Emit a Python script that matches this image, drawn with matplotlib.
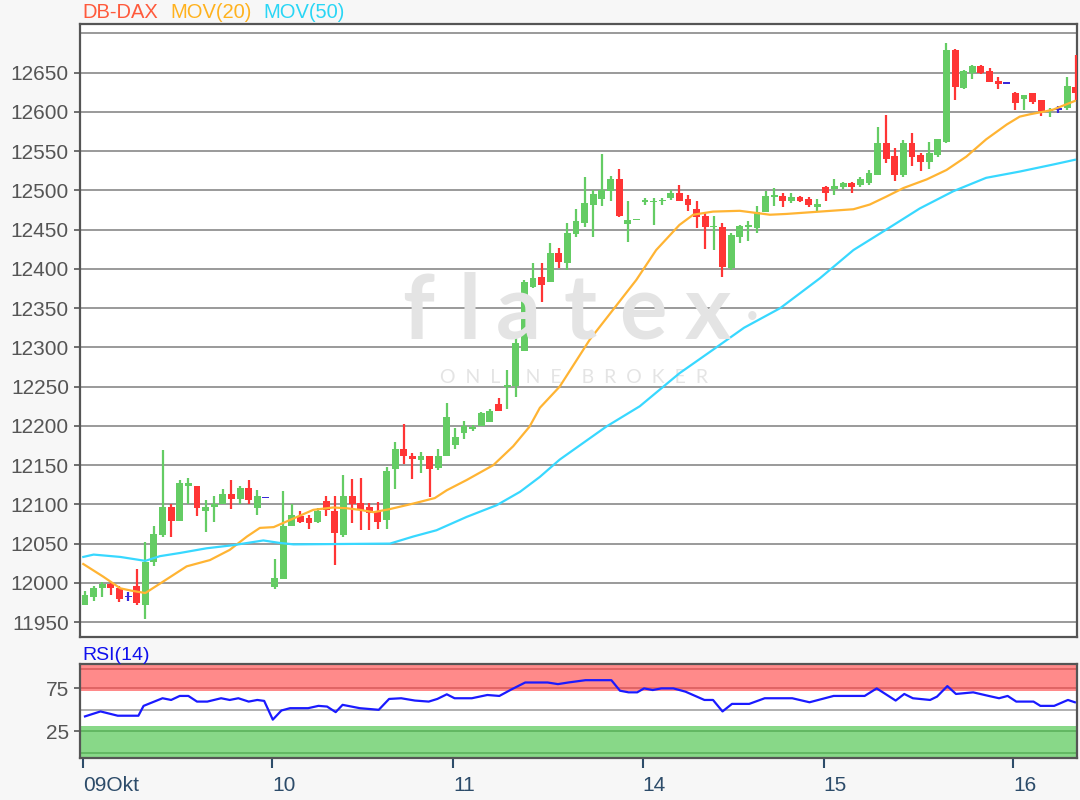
import matplotlib
matplotlib.use('Agg')
import matplotlib.pyplot as plt
import numpy as np

plt.rcParams['font.family'] = ['Liberation Sans', 'DejaVu Sans']

# Candles (one per bar, left to right): open, high, low, close
opens = [11972, 11982, 11994, 11999, 11994, 11982, 11996, 11972, 12026, 12061,
         12096, 12079, 12123, 12124, 12092, 12097, 12100, 12113, 12107, 12121,
         12095, 12108, 11995, 12005, 12073, 12085, 12082, 12078, 12104, 12091,
         12061, 12111, 12102, 12096, 12091, 12080, 12145, 12170, 12162, 12157,
         12162, 12146, 12161, 12176, 12191, 12196, 12200, 12205, 12228, 12249,
         12251, 12295, 12377, 12390, 12383, 12420, 12408, 12444, 12458, 12482,
         12489, 12499, 12515, 12457, 12462, 12485, 12485, 12486, 12490, 12497,
         12489, 12476, 12467, 12453, 12453, 12401, 12441, 12454, 12452, 12473,
         12492, 12493, 12486, 12492, 12489, 12479, 12504, 12502, 12504, 12510,
         12507, 12509, 12520, 12560, 12544, 12519, 12560, 12545, 12536, 12545,
         12562, 12679, 12631, 12650, 12659, 12652, 12639, 12636, 12624, 12616,
         12624, 12615, 12601, 12603, 12605, 12632]
highs = [11989, 11996, 12001, 12001, 11996, 11988, 12017, 12052, 12072, 12169,
         12100, 12131, 12134, 12124, 12105, 12111, 12120, 12131, 12124, 12131,
         12118, 12108, 12030, 12117, 12100, 12091, 12086, 12095, 12111, 12111,
         12137, 12132, 12134, 12102, 12103, 12147, 12180, 12203, 12166, 12167,
         12162, 12170, 12229, 12197, 12206, 12201, 12218, 12221, 12235, 12271,
         12316, 12386, 12407, 12407, 12433, 12426, 12458, 12476, 12517, 12501,
         12546, 12518, 12527, 12486, 12464, 12490, 12490, 12490, 12500, 12507,
         12494, 12486, 12473, 12467, 12458, 12446, 12456, 12461, 12480, 12499,
         12503, 12497, 12497, 12493, 12491, 12489, 12506, 12514, 12511, 12511,
         12517, 12526, 12581, 12596, 12554, 12564, 12573, 12548, 12562, 12565,
         12688, 12680, 12654, 12660, 12660, 12656, 12644, 12636, 12626, 12622,
         12624, 12615, 12605, 12608, 12645, 12673]
lows = [11972, 11977, 11982, 11985, 11975, 11977, 11972, 11954, 12021, 12059,
        12059, 12079, 12101, 12085, 12065, 12077, 12100, 12094, 12100, 12100,
        12087, 12108, 11992, 12005, 12072, 12076, 12069, 12076, 12085, 12023,
        12059, 12076, 12067, 12067, 12069, 12069, 12120, 12152, 12132, 12140,
        12109, 12144, 12161, 12171, 12183, 12193, 12200, 12205, 12219, 12222,
        12237, 12295, 12376, 12358, 12383, 12401, 12398, 12441, 12453, 12441,
        12480, 12486, 12466, 12434, 12462, 12482, 12456, 12481, 12488, 12486,
        12474, 12452, 12425, 12424, 12390, 12399, 12433, 12435, 12446, 12473,
        12480, 12479, 12484, 12485, 12479, 12473, 12486, 12494, 12502, 12497,
        12504, 12507, 12520, 12535, 12512, 12517, 12531, 12525, 12527, 12543,
        12560, 12615, 12629, 12642, 12648, 12638, 12629, 12636, 12602, 12603,
        12610, 12595, 12594, 12599, 12603, 12615]
closes = [11984, 11994, 11999, 11993, 11980, 11982, 11974, 12027, 12062, 12096,
          12079, 12127, 12127, 12095, 12096, 12100, 12113, 12107, 12121, 12105,
          12111, 12108, 12006, 12072, 12087, 12077, 12076, 12091, 12093, 12063,
          12111, 12101, 12093, 12089, 12078, 12142, 12170, 12161, 12158, 12162,
          12145, 12162, 12211, 12186, 12200, 12199, 12216, 12219, 12219, 12252,
          12306, 12383, 12388, 12380, 12420, 12409, 12446, 12461, 12484, 12495,
          12501, 12514, 12468, 12462, 12464, 12488, 12487, 12488, 12497, 12487,
          12482, 12466, 12453, 12455, 12402, 12443, 12455, 12456, 12473, 12493,
          12494, 12486, 12492, 12487, 12482, 12483, 12497, 12506, 12509, 12504,
          12514, 12522, 12560, 12540, 12519, 12561, 12543, 12536, 12548, 12565,
          12679, 12632, 12652, 12659, 12650, 12638, 12636, 12636, 12611, 12621,
          12613, 12601, 12603, 12603, 12633, 12624]

# Moving averages (bar position, value)
mov20_x = [-0.2, 2.1, 4.1, 5.4, 7, 8.7, 11.8, 14.5, 16.8, 18.8, 20.3, 21.9, 24.2,
           26.5, 28.8, 30.4, 31.9, 33.5, 35.4, 38.1, 40.6, 42, 44.3, 47.4, 49.7,
           51.6, 52.8, 55.1, 58.6, 61.3, 64, 66.3, 69, 70.6, 72.9, 76, 79.5, 81.4,
           85.3, 89.2, 91.1, 93, 95, 97.7, 100, 102.3, 104.6, 107, 108.5, 109.7,
           111.6, 112.4, 114.9]
mov20_y = [12024, 12008, 11993, 11990, 11987, 11999, 12021, 12029, 12042, 12059,
           12070, 12071, 12082, 12093, 12096, 12095, 12093, 12090, 12094, 12101,
           12108, 12118, 12131, 12150, 12174, 12199, 12223, 12250, 12310, 12348,
           12386, 12424, 12456, 12469, 12473, 12474, 12469, 12470, 12473, 12476,
           12482, 12492, 12503, 12514, 12526, 12543, 12565, 12584, 12594, 12597,
           12601, 12603, 12614]
mov50_x = [-0.2, 1, 4.1, 7, 8.7, 11, 14.1, 17.2, 20.7, 22.5, 24.2, 35.4, 38.1,
           40.8, 44.3, 47.8, 50.5, 52.8, 55.1, 60.5, 64.4, 69, 72.9, 76.5, 80.7,
           85.3, 89.2, 93, 96.9, 100.8, 104.6, 108.5, 112.4, 114.9]
mov50_y = [12033, 12036, 12033, 12028, 12034, 12038, 12044, 12048, 12054, 12051,
           12049, 12050, 12059, 12067, 12084, 12099, 12116, 12135, 12157, 12199,
           12225, 12267, 12297, 12325, 12350, 12388, 12424, 12450, 12477, 12499,
           12516, 12524, 12533, 12539]

# RSI(14)
rsi_x = [0, 1.8, 3.8, 6.2, 6.8, 9.0, 10.0, 11.0, 12.0, 13.0, 14.2, 15.8, 16.8,
         17.8, 19.0, 20.0, 20.8, 21.8, 22.8, 23.8, 25.9, 27.1, 28.1, 29.1, 29.9,
         31.9, 34.1, 35.3, 36.7, 38.3, 39.9, 40.9, 42.0, 42.9, 44.9, 46.7, 48.1,
         49.5, 51.1, 52.7, 53.7, 54.9, 56.1, 58.1, 61.1, 62.1, 63.1, 64.1, 64.9,
         65.9, 66.9, 68.3, 69.7, 71.9, 72.9, 74.0, 75.1, 77.1, 78.9, 82.1, 84.1,
         86.9, 90.5, 91.9, 94.1, 95.1, 96.1, 98.1, 98.9, 100.1, 101.1, 103.1,
         104.9, 106.1, 107.1, 108.1, 110.1, 110.9, 112.5, 114.1, 114.9]
rsi_y = [42.3, 48.1, 43.1, 43.1, 54.6, 63.5, 61.5, 66.2, 66.2, 59.6, 59.6, 63.5,
         61.5, 63.5, 59.6, 61.5, 60.4, 38.5, 49.2, 51.9, 51.9, 54.6, 53.8, 47.3,
         55.8, 51.9, 50.0, 62.7, 63.5, 60.8, 59.6, 62.7, 68.1, 63.5, 63.5, 67.3,
         66.2, 73.8, 81.9, 81.9, 81.9, 80.0, 81.9, 84.6, 84.6, 72.3, 70.4, 70.4,
         75.0, 73.1, 75.0, 75.0, 71.2, 61.5, 61.5, 48.1, 56.9, 56.9, 63.5, 63.5,
         58.8, 66.2, 66.2, 75.0, 60.8, 68.5, 63.5, 61.5, 65.4, 77.7, 68.5, 70.4,
         66.2, 63.5, 66.2, 59.6, 59.6, 54.6, 54.6, 61.5, 58.8]

day_start = [0, 22, 43, 65, 86, 108]
day_labels = ['09Okt', '10', '11', '14', '15', '16']

GREEN = '#64cc64'
RED = '#ff3535'
DOJI = '#3a2ad8'
WATER = '#e4e4e4'

fig = plt.figure(figsize=(10.8, 8), dpi=100, facecolor='#f7f7f7')
ax = fig.add_axes([80 / 1080, 1 - 637 / 800, 997 / 1080, 613 / 800])
rax = fig.add_axes([80 / 1080, 1 - 757.5 / 800, 997 / 1080, 93.5 / 800])

xlim = (-0.58, 115.15)

# ---- main price panel
for lvl in range(11950, 12701, 50):
    ax.axhline(lvl, color='#9a9a9a', lw=1.4, zorder=1)

# watermark, letter by letter so it spreads like the logo
for ch, px in zip('flatex', [418, 470, 518, 580, 643, 708]):
    fig.text(px / 1080, 1 - 313 / 800, ch, fontsize=64, family='Lato',
             weight='bold', color=WATER, ha='center', va='center', zorder=0)
fig.text(752 / 1080, 1 - 318 / 800, '\u2022', fontsize=22, color=WATER,
         ha='center', va='center', zorder=0)
ax.text(0.495, 0.424, 'O  N  L  I  N  E    B  R  O  K  E  R',
        transform=ax.transAxes, fontsize=14, family='Lato', color=WATER,
        ha='center', va='center', zorder=0.5)
ax.patch.set_alpha(0)
fig.patches.append(plt.Rectangle((80 / 1080, 1 - 637 / 800), 997 / 1080,
                                 613 / 800, transform=fig.transFigure,
                                 color='white', zorder=-1))

idx = np.arange(len(opens))
o = np.array(opens, float)
c = np.array(closes, float)
colors = []
for oo, cc in zip(o, c):
    if cc > oo:
        colors.append(GREEN)
    elif cc < oo:
        colors.append(RED)
    else:
        colors.append(DOJI)

ax.vlines(idx, lows, highs, colors=colors, lw=1.6, zorder=3)
body_lo = np.minimum(o, c)
body_h = np.maximum(np.abs(c - o), 1.6)
ax.bar(idx, body_h, bottom=body_lo, width=0.8, color=colors, zorder=4,
       linewidth=0)

ax.plot(mov20_x, mov20_y, color='#ffb433', lw=1.6, zorder=5)
ax.plot(mov50_x, mov50_y, color='#38d8ff', lw=1.6, zorder=5)

ax.set_xlim(*xlim)
ax.set_ylim(11931, 12712)
ax.set_xticks([])
ax.set_yticks(range(11950, 12651, 50))
ax.tick_params(axis='y', length=4, width=1.2, color='#555555',
               labelcolor='#555555', labelsize=15, pad=4)
for s in ax.spines.values():
    s.set_color('#555555')
    s.set_linewidth(1.6)

fig.text(82 / 1080, 1 - 13 / 800, 'DB-DAX', color='#ff5a3c', fontsize=14.5,
         va='center', ha='left')
fig.text(170 / 1080, 1 - 13 / 800, 'MOV(20)', color='#ffb21e', fontsize=14.5,
         va='center', ha='left')
fig.text(263 / 1080, 1 - 13 / 800, 'MOV(50)', color='#2ad6f5', fontsize=14.5,
         va='center', ha='left')

# ---- RSI panel
rax.set_facecolor('white')
rax.axhspan(72, 103.5, color='#ff8a8a', lw=0, zorder=1)
rax.axhspan(-5.7, 31, color='#88d888', lw=0, zorder=1)
for lvl in (75, 98):
    rax.axhline(lvl, color='#e06464', lw=1.4, zorder=2)
for lvl in (25, -1):
    rax.axhline(lvl, color='#62b862', lw=1.4, zorder=2)
rax.axhline(50, color='#aaaaaa', lw=1.3, zorder=2)
rax.plot(rsi_x, rsi_y, color='#1a1aff', lw=1.6, zorder=3)

rax.set_xlim(*xlim)
rax.set_ylim(-5.7, 103.5)
rax.set_yticks([25, 75])
rax.tick_params(axis='y', length=4, width=1.2, color='#555555',
                labelcolor='#555555', labelsize=15, pad=4)
rax.set_xticks([d - 0.25 for d in day_start])
rax.set_xticklabels(day_labels)
rax.tick_params(axis='x', length=7, width=1.5, color='#2d4c6a',
                labelcolor='#2d4c6a', labelsize=15, pad=6)
for lab in rax.get_xticklabels():
    lab.set_horizontalalignment('left')
for s in rax.spines.values():
    s.set_color('#555555')
    s.set_linewidth(1.6)

fig.text(82 / 1080, 1 - 655 / 800, 'RSI(14)', color='#1010ee', fontsize=14,
         va='center', ha='left')

fig.savefig('out.png', dpi=100, facecolor=fig.get_facecolor())
